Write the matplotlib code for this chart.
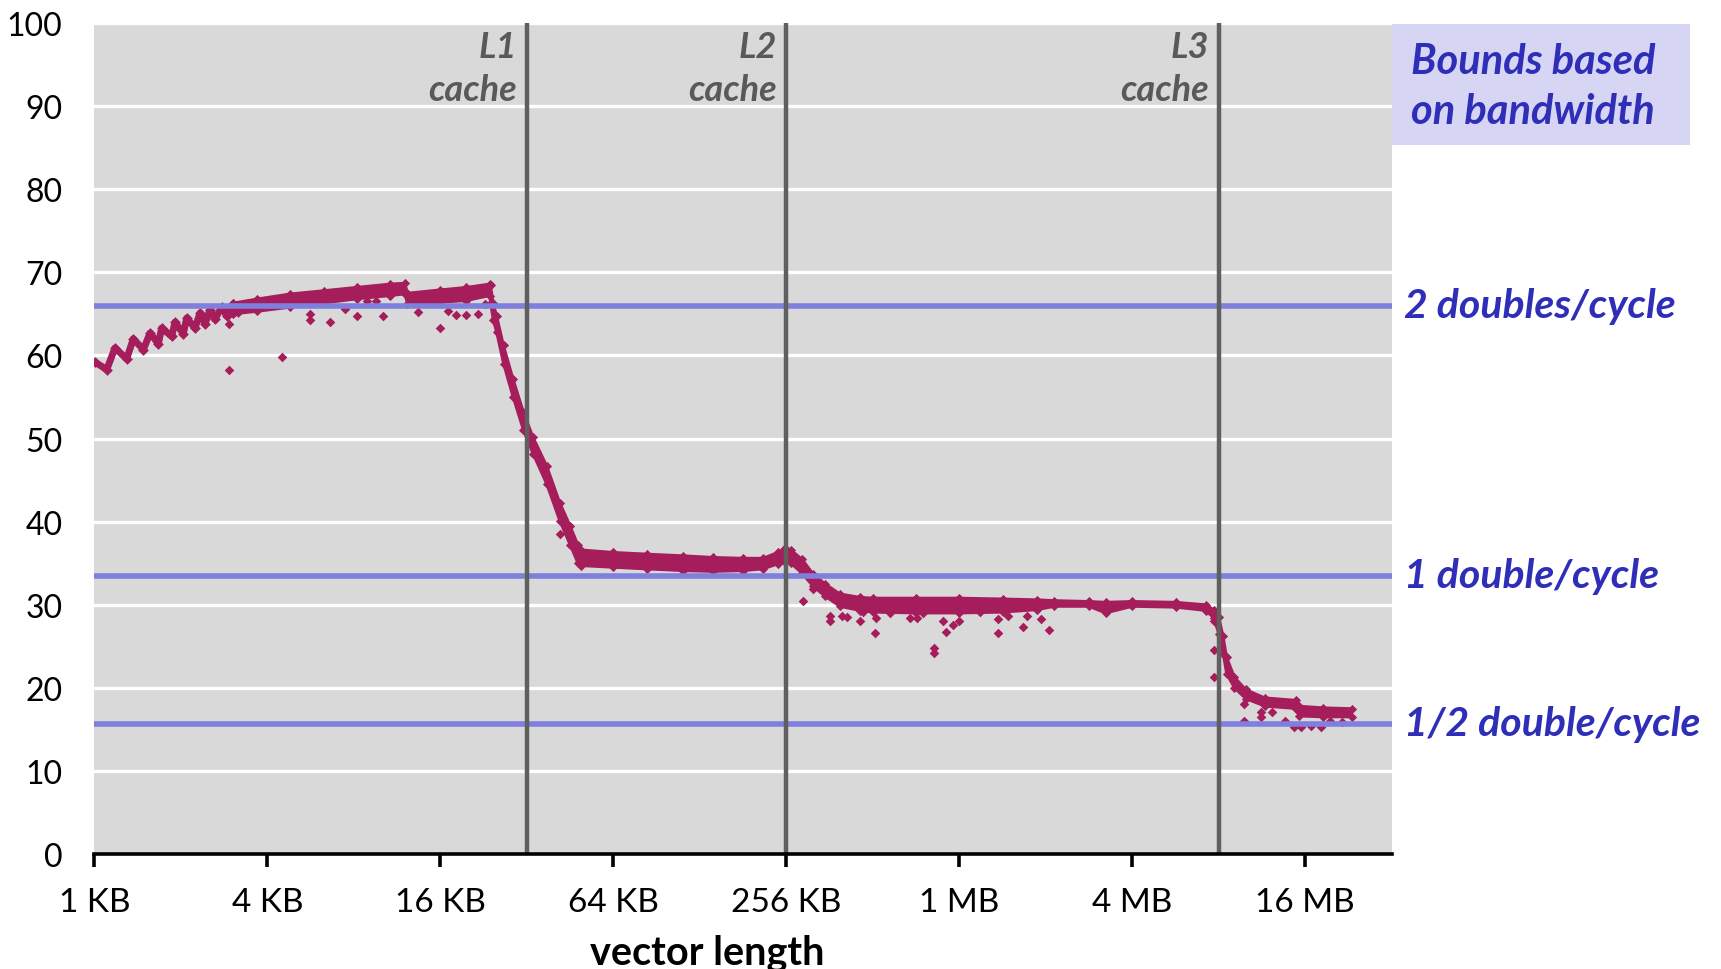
import matplotlib
matplotlib.use("Agg")
import matplotlib.pyplot as plt
from matplotlib.ticker import FixedLocator, NullLocator

# Measured throughput against vector length (KB)
# Short vectors: saw-tooth pattern, traced point by point
saw_kb = [1.005, 1.104, 1.179, 1.295, 1.366, 1.480, 1.562, 1.669, 1.715, 1.857,
          1.908, 2.039, 2.095, 2.239, 2.331, 2.427, 2.525, 2.628, 2.774, 2.886,
          3.044, 3.169]
saw_val = [59.2, 58.3, 60.9, 59.6, 62.0, 60.7, 62.7, 61.4, 63.3, 62.3,
           64.0, 62.6, 64.5, 63.3, 65.1, 63.8, 65.5, 64.4, 65.8, 64.8,
           66.2, 65.2]

# Dense part of the measurements: upper and lower edge of the point cloud
band_kb = [3.03, 3.68, 4.79, 6.28, 8.17, 10.70, 12.04, 12.29, 16.0, 19.70,
           23.75, 23.92, 24.42, 25.11, 26.54, 28.64, 31.13, 33.59, 37.53, 41.64,
           45.25, 48.17, 49.52, 64.0, 83.6, 111.4, 142.5, 181.0, 212.3, 238.9,
           252.5, 265.0, 290.0, 317.4, 349.7, 393.4, 461.4, 512, 724, 1024,
           1448, 1911, 2195, 2896, 3304, 4096, 5793, 7383, 7858, 8192,
           8481, 8719, 9281, 10156, 11826, 15177, 15603, 18820, 23818]
band_hi = [66.3, 66.8, 67.4, 67.8, 68.2, 68.6, 68.7, 67.5, 67.9, 68.2,
           68.6, 68.5, 66.3, 64.8, 61.2, 57.2, 53.2, 50.2, 46.7, 42.3,
           39.5, 37.2, 36.6, 36.3, 36.1, 35.9, 35.7, 35.6, 35.6, 36.3,
           36.8, 36.6, 35.5, 33.7, 32.5, 31.3, 30.9, 30.8, 30.8, 30.8,
           30.7, 30.6, 30.5, 30.4, 30.3, 30.4, 30.3, 30.0, 29.4, 28.5,
           26.2, 23.7, 21.3, 19.8, 18.8, 18.5, 17.8, 17.6, 17.5]
band_lo = [65.0, 65.3, 65.8, 66.3, 66.8, 67.2, 67.4, 66.2, 66.4, 66.6,
           67.2, 66.3, 64.3, 62.8, 59.0, 55.0, 51.0, 48.2, 44.5, 40.1,
           37.2, 35.0, 34.7, 34.5, 34.3, 34.1, 34.0, 34.1, 34.3, 34.9,
           35.2, 35.0, 33.8, 32.2, 31.0, 29.8, 29.3, 29.1, 29.0, 29.0,
           29.1, 29.4, 29.8, 29.8, 29.0, 29.8, 29.7, 29.3, 28.4, 26.5,
           24.1, 21.7, 20.0, 18.7, 17.8, 17.5, 16.6, 16.5, 16.5]

# Isolated slow runs
outlier_kb = [2.95, 2.95, 4.48, 5.62, 5.62, 6.59, 7.46, 8.17, 8.88, 9.58,
              10.13, 13.41, 15.94, 17.03, 18.13, 19.70, 21.71, 22.87, 41.64, 293.1,
              317.4, 362.0, 362.0, 398.9, 415.9, 461.4, 474.3, 519.1, 526.3, 588.1,
              689.8, 729.1, 765.4, 837.5, 837.5, 897.6, 919.6, 975.4, 1024, 1209,
              1399, 1399, 1515, 1710, 1758, 1964, 2105, 7858, 7858, 7858,
              10016, 10016, 11503, 11503, 12588, 13871, 14968, 15821, 17195, 18557,
              20029, 21918]
outlier_val = [63.8, 58.3, 59.85, 65.0, 64.3, 64.0, 65.6, 64.8, 66.6, 66.6,
               64.7, 65.2, 63.3, 65.3, 64.9, 64.9, 65.0, 66.2, 38.5, 30.4,
               31.9, 28.7, 28.1, 28.7, 28.5, 28.1, 29.1, 26.6, 28.4, 29.0,
               28.4, 28.4, 29.0, 24.75, 24.2, 28.0, 26.75, 27.6, 28.1, 29.1,
               28.3, 26.6, 28.7, 27.3, 28.7, 28.3, 26.9, 28.1, 24.5, 21.3,
               18.05, 16.05, 17.05, 16.45, 17.05, 16.05, 15.25, 15.25, 15.45, 15.25,
               16.05, 15.85]

tick_kb = [1, 4, 16, 64, 256, 1024, 4096, 16384]
tick_labels = ["1 KB", "4 KB", "16 KB", "64 KB", "256 KB", "1 MB", "4 MB", "16 MB"]
y_ticks = [0, 10, 20, 30, 40, 50, 60, 70, 80, 90, 100]
cache_kb = [32, 256, 8192]
cache_names = ["L1\ncache", "L2\ncache", "L3\ncache"]
bound_vals = [66.0, 33.5, 15.7]
bound_names = ["2 doubles/cycle", "1 double/cycle", "1/2 double/cycle"]

POINT = "#A61D5B"
BOUND = "#7F7FDE"
BOUND_TXT = "#2E2EB8"
CACHE = "#5F5F5F"
FONT = ["Lato", "DejaVu Sans"]

W, H = 1721, 970
fig = plt.figure(figsize=(W / 100, H / 100), dpi=100)
left, right, top, bottom = 94.4, 1391.8, 24.1, 855.0
ax = fig.add_axes([left / W, 1 - bottom / H, (right - left) / W, (bottom - top) / H])
ax.set_facecolor("#D9D9D9")

ax.set_xscale("log", base=2)
ax.set_xlim(1, 32768)
ax.set_ylim(0, 100)

# white horizontal grid
for v in y_ticks[1:]:
    ax.axhline(v, color="white", lw=2.4, zorder=1)

# measurements
ax.fill_between(band_kb, band_lo, band_hi, color=POINT, lw=0, zorder=3)
ax.plot(band_kb, band_hi, color=POINT, lw=2.0, zorder=3)
ax.plot(band_kb, band_lo, color=POINT, lw=2.0, zorder=3)
ax.scatter(band_kb, band_hi, marker="D", s=22, color=POINT, lw=0, zorder=3)
ax.scatter(band_kb, band_lo, marker="D", s=22, color=POINT, lw=0, zorder=3)
ax.plot(saw_kb, saw_val, color=POINT, lw=5.0, solid_capstyle="round", zorder=3)
ax.scatter(saw_kb, saw_val, marker="D", s=30, color=POINT, lw=0, zorder=3)
ax.scatter(outlier_kb, outlier_val, marker="D", s=24, color=POINT, lw=0, zorder=3)

# bandwidth bounds
for v in bound_vals:
    ax.axhline(v, color=BOUND, lw=4.0, zorder=4)

# cache boundaries
for kb, name in zip(cache_kb, cache_names):
    ax.axvline(kb, color=CACHE, lw=3.2, zorder=5)
    ax.annotate(name, xy=(kb, 0.9456), xycoords=("data", "axes fraction"),
                xytext=(-7, 0), textcoords="offset points",
                ha="right", va="center", multialignment="right",
                fontsize=26, fontweight="bold", fontstyle="italic",
                family=FONT, color="#595959", linespacing=1.38, zorder=6)

# axes styling
for s in ("top", "right", "left"):
    ax.spines[s].set_visible(False)
ax.spines["bottom"].set_linewidth(2.6)
ax.spines["bottom"].set_color("black")
ax.spines["bottom"].set_zorder(6)
ax.xaxis.set_major_locator(FixedLocator(tick_kb))
ax.xaxis.set_minor_locator(NullLocator())
ax.set_xticklabels(tick_labels)
ax.set_yticks(y_ticks)
ax.tick_params(axis="x", length=9, width=2.6, pad=15, labelsize=24, colors="black")
ax.tick_params(axis="y", length=0, pad=23, labelsize=23)
for lab in ax.get_xticklabels() + ax.get_yticklabels():
    lab.set_family(FONT)

fig.text(707 / W, 1 - 953 / H, "vector length", ha="center", va="center",
         fontsize=28.5, fontweight="bold", family=FONT)

# bound labels to the right of the plot
for v, name in zip(bound_vals, bound_names):
    yfig = (1 - bottom / H) + v / 100 * (bottom - top) / H
    fig.text(1404 / W, yfig, name, ha="left", va="center", fontsize=29.5,
             fontweight="bold", fontstyle="italic", family=FONT, color=BOUND_TXT)

# legend-like box
box = plt.Rectangle((1392 / W, 1 - 146 / H), 298 / W, 121 / H, transform=fig.transFigure,
                    facecolor="#D6D6F4", edgecolor="none", zorder=0)
fig.patches.append(box)
fig.text(1411 / W, 1 - 87 / H, "Bounds based\non bandwidth", ha="left", va="center",
         fontsize=30, fontweight="bold", fontstyle="italic", family=FONT,
         color=BOUND_TXT, linespacing=1.4)

fig.savefig("out.png", dpi=100)
